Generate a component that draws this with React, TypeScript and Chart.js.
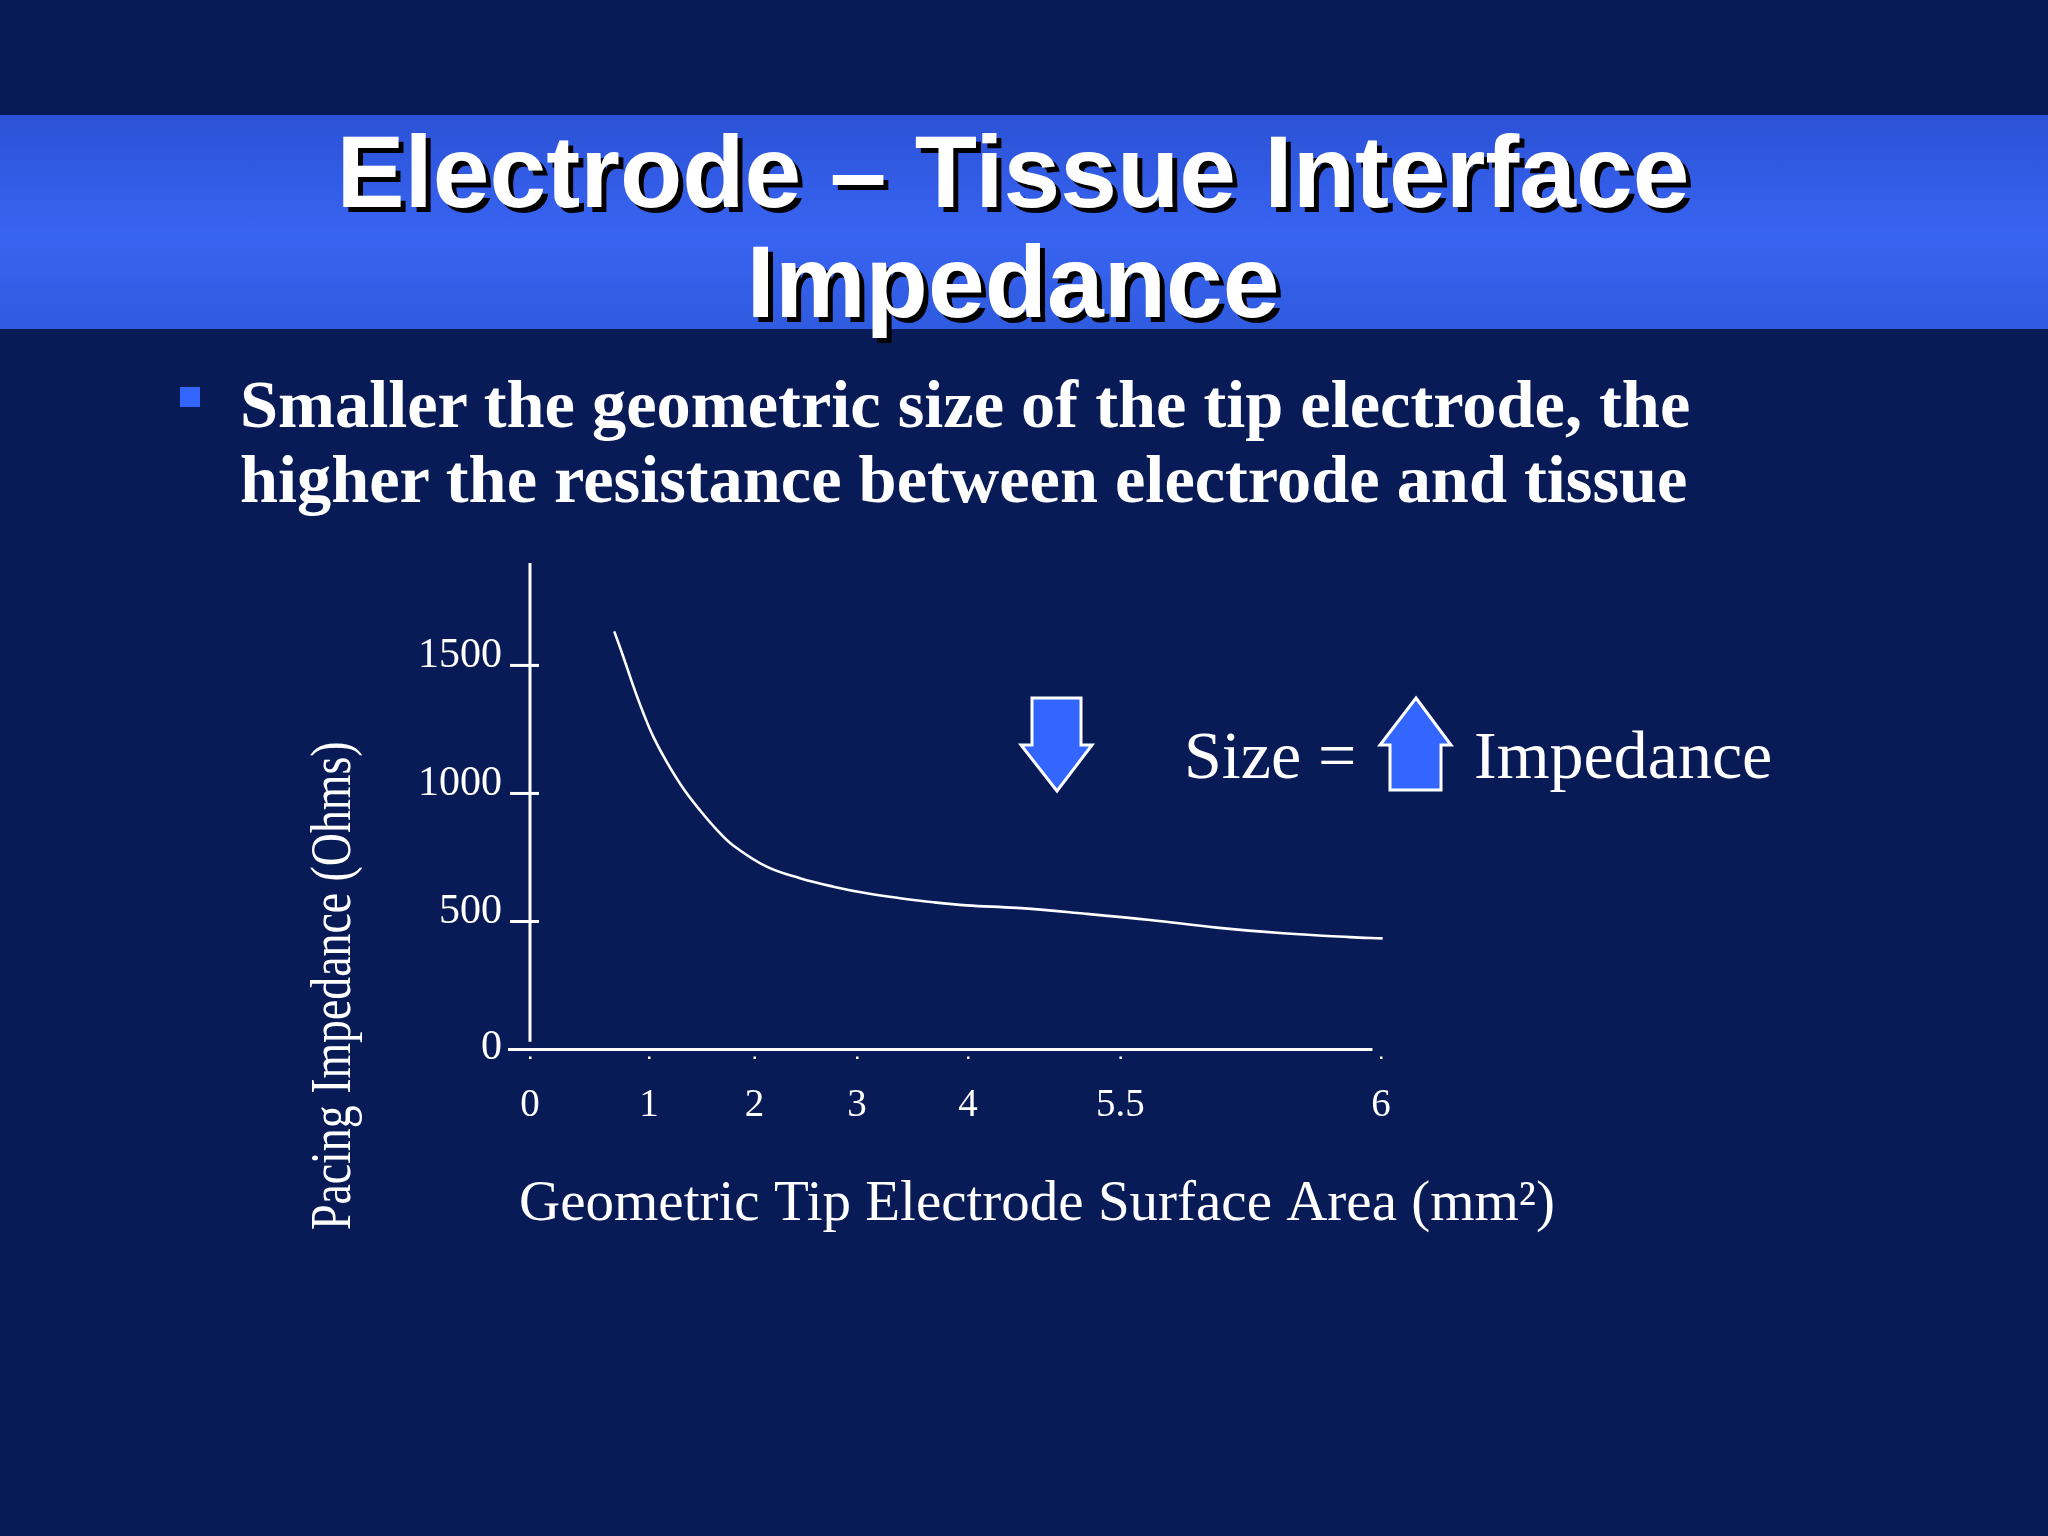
import React, { useEffect, useRef } from "react";
import { Chart, registerables } from "chart.js";

Chart.register(...registerables);

// ---- data ----
const curveX = [0.594, 0.658, 0.728, 0.799, 0.870, 0.964, 1.081, 1.199, 1.316, 1.433, 1.669, 1.904, 2.139, 2.374, 2.609, 2.844, 3.080, 3.432, 3.902, 4.371, 4.841, 5.311, 5.781, 6.012];
const curveY = [1633, 1534, 1420, 1314, 1221, 1123, 1019, 934, 859, 797, 714, 669, 636, 610, 591, 575, 563, 553, 531, 506, 476, 454, 439, 434];
const xTickPositions = [0, 0.839, 1.583, 2.306, 3.088, 4.163, 6];
const xTickLabels = ["0", "1", "2", "3", "4", "5.5", "6"];
const yTickValues = [0, 500, 1000, 1500];
const yTickLabels = ["0", "500", "1000", "1500"];
const yTitle = "Pacing Impedance (Ohms)";
const xTitle = "Geometric Tip Electrode Surface Area (mm\u00B2)";

const X_MIN = -0.155;
const X_MAX = 6.02;
const X_AXIS_END = 5.94;
const Y_MAX = 1900;
const Y_AXIS_BOTTOM = 30;

const SERIF = '"Liberation Serif", "Times New Roman", serif';
const SANS = '"Liberation Sans", Arial, sans-serif';

const CANVAS_W = 1300;
const CANVAS_H = 720;

const axesPlugin = {
  id: "slideAxes",
  beforeDatasetsDraw(chart: any) {
    const ctx = chart.ctx as CanvasRenderingContext2D;
    const xs = chart.scales.x;
    const ys = chart.scales.y;
    const area = chart.chartArea;
    const x0 = xs.getPixelForValue(0);
    const y0 = ys.getPixelForValue(0);
    ctx.save();
    ctx.strokeStyle = "#ffffff";
    ctx.fillStyle = "#ffffff";
    ctx.lineWidth = 3;
    // y axis line
    ctx.beginPath();
    ctx.moveTo(x0, ys.getPixelForValue(Y_MAX));
    ctx.lineTo(x0, ys.getPixelForValue(Y_AXIS_BOTTOM));
    ctx.stroke();
    // x axis line
    ctx.beginPath();
    ctx.moveTo(area.left, y0);
    ctx.lineTo(xs.getPixelForValue(X_AXIS_END), y0);
    ctx.stroke();
    // y ticks + labels
    ctx.font = `42px ${SERIF}`;
    ctx.textAlign = "right";
    ctx.textBaseline = "alphabetic";
    yTickValues.forEach((v, i) => {
      const py = ys.getPixelForValue(v);
      if (v !== 0) {
        ctx.beginPath();
        ctx.moveTo(x0 - 20, py);
        ctx.lineTo(x0 + 9, py);
        ctx.stroke();
      }
      ctx.fillText(yTickLabels[i], x0 - 28, py + (v === 0 ? 9 : 2));
    });
    // x tick dots + labels
    ctx.font = `39px ${SERIF}`;
    ctx.textAlign = "center";
    xTickPositions.forEach((p, i) => {
      const px = xs.getPixelForValue(p);
      ctx.fillRect(px - 1, y0 + 7, 2.5, 2.5);
      ctx.fillText(xTickLabels[i], px, y0 + 66);
    });
    // x title
    ctx.font = `57px ${SERIF}`;
    ctx.textAlign = "center";
    ctx.fillText(xTitle, area.left + 529, y0 + 170);
    // y title (rotated, horizontally condensed)
    ctx.save();
    ctx.translate(area.left - 178, ys.getPixelForValue(249));
    ctx.rotate(-Math.PI / 2);
    ctx.scale(0.79, 1);
    ctx.font = `58px ${SERIF}`;
    ctx.textAlign = "center";
    ctx.fillText(yTitle, 0, 20);
    ctx.restore();
    ctx.restore();
  },
};

function ImpedanceChart() {
  const ref = useRef<HTMLCanvasElement | null>(null);
  useEffect(() => {
    if (!ref.current) return;
    const points = curveX.map((x, i) => ({ x, y: curveY[i] }));
    const chart = new Chart(ref.current, {
      type: "scatter",
      data: {
        datasets: [
          {
            data: points,
            showLine: true,
            borderColor: "#ffffff",
            borderWidth: 2.6,
            pointRadius: 0,
            tension: 0.4,
            fill: false,
          } as any,
        ],
      },
      options: {
        responsive: false,
        maintainAspectRatio: false,
        devicePixelRatio: 1,
        animation: false,
        layout: {
          padding: { left: 228, top: 23, right: CANVAS_W - 1103.8, bottom: CANVAS_H - 509.5 },
        },
        plugins: {
          legend: { display: false },
          tooltip: { enabled: false },
          title: { display: false },
        },
        scales: {
          x: { type: "linear", min: X_MIN, max: X_MAX, display: false },
          y: { type: "linear", min: 0, max: Y_MAX, display: false },
        },
      },
      plugins: [axesPlugin],
    });
    return () => chart.destroy();
  }, []);
  return (
    <canvas
      ref={ref}
      width={CANVAS_W}
      height={CANVAS_H}
      style={{ position: "absolute", left: 280, top: 540, width: CANVAS_W, height: CANVAS_H }}
    />
  );
}

function Arrows() {
  return (
    <svg style={{ position: "absolute", left: 0, top: 0 }} width={2048} height={1536}>
      <polygon
        points="1032,698 1081,698 1081,745 1092,745 1057,791 1021,745 1032,745"
        fill="#3366ff"
        stroke="#ffffff"
        strokeWidth={3}
        strokeLinejoin="miter"
      />
      <polygon
        points="1416,698 1451,745 1441,745 1441,790 1390,790 1390,745 1380,745"
        fill="#3366ff"
        stroke="#ffffff"
        strokeWidth={3}
        strokeLinejoin="miter"
      />
    </svg>
  );
}

export default function App() {
  useEffect(() => {
    document.body.style.margin = "0";
    document.body.style.background = "#091b57";
  }, []);
  return (
    <div
      style={{
        position: "absolute",
        left: 0,
        top: 0,
        width: 2048,
        height: 1536,
        background: "#091b57",
        overflow: "hidden",
      }}
    >
      <div
        style={{
          position: "absolute",
          left: 0,
          top: 115,
          width: 2048,
          height: 214,
          background: "linear-gradient(to bottom, #2b52d6 0%, #3864f2 55%, #2f5be0 100%)",
        }}
      />
      <div
        style={{
          position: "absolute",
          left: 0,
          top: 117,
          width: 2026,
          textAlign: "center",
          color: "#ffffff",
          fontFamily: SANS,
          fontWeight: 700,
          fontSize: 102,
          lineHeight: "110px",
          textShadow: "5px 5px 0 #000000",
          whiteSpace: "nowrap",
        }}
      >
        Electrode – Tissue Interface
        <br />
        Impedance
      </div>
      <div
        style={{
          position: "absolute",
          left: 180,
          top: 387,
          width: 20,
          height: 20,
          background: "#3366ff",
        }}
      />
      <div
        style={{
          position: "absolute",
          left: 240,
          top: 367,
          color: "#ffffff",
          fontFamily: SERIF,
          fontWeight: 700,
          fontSize: 68.4,
          lineHeight: "75px",
          whiteSpace: "nowrap",
        }}
      >
        Smaller the geometric size of the tip electrode, the
        <br />
        higher the resistance between electrode and tissue
      </div>
      <ImpedanceChart />
      <Arrows />
      <div
        style={{
          position: "absolute",
          left: 1184,
          top: 721,
          color: "#ffffff",
          fontFamily: SERIF,
          fontSize: 68,
          lineHeight: "68px",
          whiteSpace: "nowrap",
        }}
      >
        Size =
      </div>
      <div
        style={{
          position: "absolute",
          left: 1474,
          top: 721,
          color: "#ffffff",
          fontFamily: SERIF,
          fontSize: 68,
          lineHeight: "68px",
          whiteSpace: "nowrap",
        }}
      >
        Impedance
      </div>
    </div>
  );
}
